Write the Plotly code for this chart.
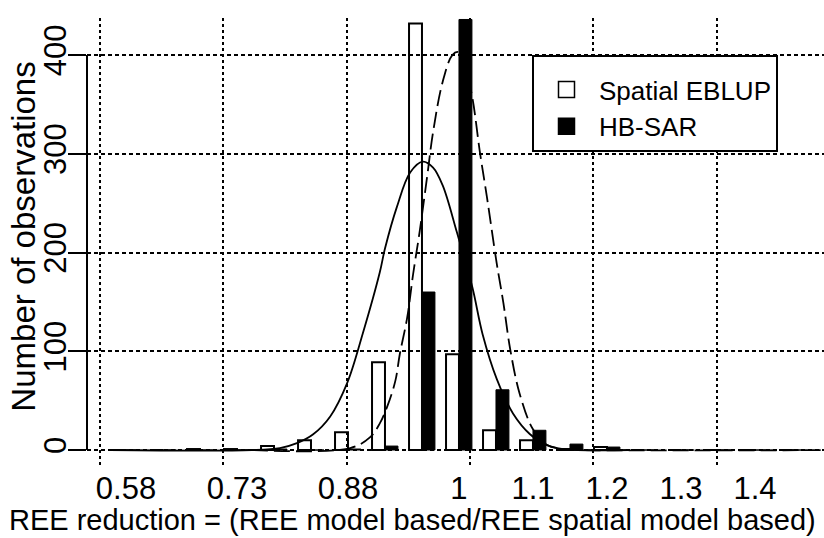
import plotly.graph_objects as go

# ---------------- data ----------------
bins = [0.58, 0.63, 0.68, 0.73, 0.78, 0.83, 0.88, 0.93, 0.98, 1.03,
        1.08, 1.13, 1.18, 1.23, 1.28, 1.33, 1.38, 1.43, 1.48]
eblup_counts = [0, 0, 1, 1, 4, 10, 18, 89, 432, 97, 20, 10, 1, 3, 0, 0, 0, 0, 0]
hbsar_counts = [0, 0, 0, 0, 1, 0, 1, 4, 160, 436, 61, 20, 6, 3, 0, 0, 0, 0, 0]

x_tick_vals = [0.58, 0.73, 0.88, 1.03, 1.13, 1.23, 1.33, 1.43]
x_tick_text = ["0.58", "0.73", "0.88", "1", "1.1", "1.2", "1.3", "1.4"]
y_ticks = [0, 100, 200, 300, 400]

# fitted density curves
eblup_curve_x = [0.558, 0.75, 0.788, 0.811, 0.833, 0.856, 0.879, 0.900, 0.923, 0.930,
                 0.946, 0.964, 0.981, 0.995, 1.008, 1.027, 1.048, 1.062, 1.081, 1.103,
                 1.126, 1.149, 1.171, 1.26]
eblup_curve_y = [0, 0, 2, 7, 16, 34, 68, 118, 180, 204,
                 246, 281, 292, 286, 268, 221, 165, 117, 72, 37,
                 16, 5, 1, 0]

hbsar_curve_x = [0.75, 0.883, 0.910, 0.923, 0.933, 0.944, 0.950, 0.960, 0.968, 0.977,
                 0.987, 0.995, 1.008, 1.021, 1.029, 1.038, 1.048, 1.058, 1.068, 1.081,
                 1.090, 1.099, 1.112, 1.130, 1.149, 1.171, 1.20, 1.55]
hbsar_curve_y = [0, 2, 13, 27, 44, 70, 97, 134, 178, 222,
                 277, 322, 373, 400, 403, 388, 357, 303, 255, 189,
                 149, 103, 57, 21, 5, 1, 0, 0]

series_names = ["Spatial EBLUP", "HB-SAR"]

FONT = "Liberation Sans, Arial, sans-serif"

fig = go.Figure()

fig.add_trace(go.Bar(x=bins, y=eblup_counts, name=series_names[0], showlegend=False,
                     marker=dict(color="rgba(255,255,255,0)", line=dict(color="black", width=2))))
fig.add_trace(go.Bar(x=bins, y=hbsar_counts, name=series_names[1], showlegend=False,
                     marker=dict(color="black", line=dict(color="black", width=1))))

fig.add_trace(go.Scatter(x=eblup_curve_x, y=eblup_curve_y, mode="lines", showlegend=False,
                         line=dict(color="black", width=1.8, shape="spline"), hoverinfo="skip"))
fig.add_trace(go.Scatter(x=hbsar_curve_x, y=hbsar_curve_y, mode="lines", showlegend=False,
                         line=dict(color="black", width=1.8, shape="spline", dash="16px,6px"),
                         hoverinfo="skip"))

# legend entries
fig.add_trace(go.Scatter(x=[None], y=[None], mode="markers", name=series_names[0],
                         marker=dict(symbol="square", size=16, color="white",
                                     line=dict(color="black", width=1.5))))
fig.add_trace(go.Scatter(x=[None], y=[None], mode="markers", name=series_names[1],
                         marker=dict(symbol="square", size=16, color="black",
                                     line=dict(color="black", width=1.5))))

x_range = [0.5273, 1.5233]

fig.update_layout(
    width=824, height=538,
    margin=dict(l=87, r=0, t=18, b=71),
    paper_bgcolor="white", plot_bgcolor="white",
    barmode="group", bargap=0.3, bargroupgap=0,
    font=dict(family=FONT, color="black", size=31),
    showlegend=True,
    legend=dict(x=0.6038, y=0.9176, xanchor="left", yanchor="top",
                bgcolor="white", bordercolor="black", borderwidth=2,
                font=dict(family=FONT, size=26, color="black"),
                title=dict(text=" ", font=dict(size=7)),
                itemwidth=55, entrywidth=190, entrywidthmode="pixels",
                traceorder="normal"),
    xaxis=dict(range=x_range, tickmode="array", tickvals=x_tick_vals,
               ticktext=x_tick_text, showgrid=False, ticks="",
               zeroline=False, showline=False,
               tickfont=dict(family=FONT, size=31, color="black"),
               minor=dict(tickmode="linear", tick0=0.5449, dtick=1/6, showgrid=True,
                          gridcolor="black", gridwidth=2, griddash="3px,3px", ticks="")),
    yaxis=dict(range=[-17.2, 437.5], tickmode="array", tickvals=y_ticks,
               showgrid=True, gridcolor="black", gridwidth=2, griddash="4px,3px",
               zeroline=False, showline=False, ticks="outside", ticklen=18,
               tickwidth=2, tickcolor="black", tickangle=-90,
               ticklabelstandoff=-10,
               tickfont=dict(family=FONT, size=31, color="black")),
    shapes=[dict(type="line", xref="paper", x0=0, x1=0, yref="y",
                 y0=y_ticks[0], y1=y_ticks[-1], line=dict(color="black", width=2))],
    annotations=[
        dict(text="REE reduction = (REE model based/REE spatial model based)",
             xref="paper", yref="paper", x=-0.108, y=-0.118, xanchor="left",
             yanchor="middle", showarrow=False,
             font=dict(family=FONT, size=29, color="black")),
        dict(text="Number of observations", textangle=-90,
             xref="paper", yref="paper", x=-0.0855, y=0.513, xanchor="center",
             yanchor="middle", showarrow=False,
             font=dict(family=FONT, size=33, color="black")),
    ],
)

fig.write_html("out.html")
